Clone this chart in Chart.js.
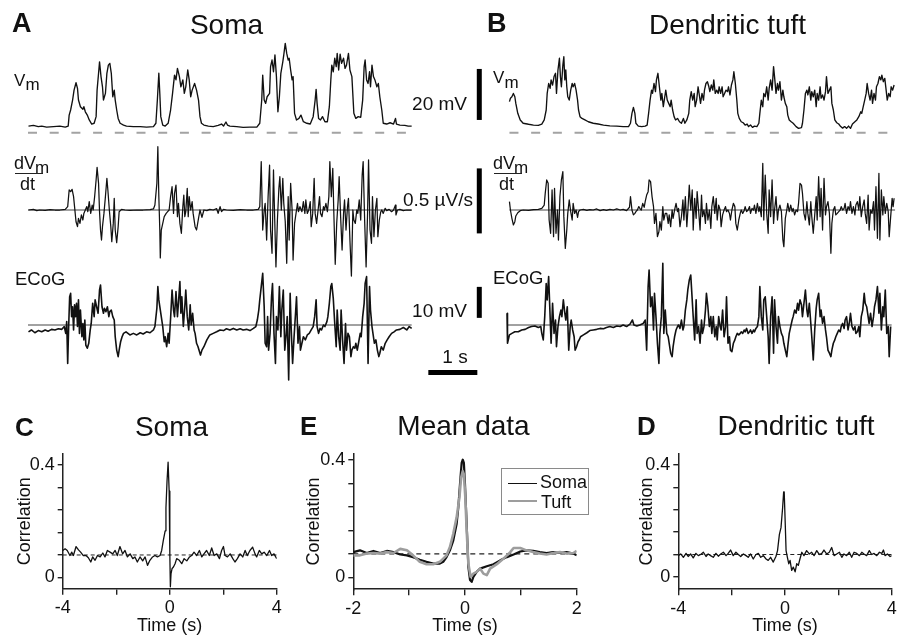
<!DOCTYPE html>
<html><head><meta charset="utf-8">
<script src="https://cdn.jsdelivr.net/npm/chart.js@4.4.0/dist/chart.umd.min.js"></script>
<style>
html,body{margin:0;padding:0;background:#fff;}
body{width:904px;height:642px;overflow:hidden;position:relative;font-family:"Liberation Sans",Arial,Helvetica,sans-serif;}
canvas{position:absolute;}
.t{position:absolute;white-space:nowrap;color:#111;line-height:1;}
</style></head><body>
<script>
// ---------------- DATA ----------------
// Panel A (soma) traces: [time s, value]
const somaVm = [[0.01,2.6],[0.11,2.9],[0.21,2.4],[0.28,2.6],[0.38,2.2],[0.52,2.4],[0.65,2.6],[0.76,2.2],[0.82,2.6],[0.84,6.9],[0.87,8.9],[0.91,12.8],[0.94,16.7],[0.98,19.6],[1.01,17.4],[1.03,12.8],[1.07,10.2],[1.12,9.2],[1.14,10.2],[1.17,8.2],[1.21,6.9],[1.25,5.0],[1.30,3.4],[1.35,3.7],[1.39,6.3],[1.41,16.7],[1.44,23.3],[1.46,27.8],[1.49,22.0],[1.52,18.0],[1.54,12.8],[1.58,15.4],[1.61,23.3],[1.64,26.5],[1.67,27.2],[1.70,23.3],[1.73,14.1],[1.76,16.7],[1.78,12.8],[1.81,8.9],[1.84,5.6],[1.88,3.7],[1.95,3.0],[2.01,2.6],[2.15,2.4],[2.29,2.4],[2.42,2.2],[2.56,2.4],[2.61,3.7],[2.64,12.8],[2.67,23.3],[2.69,15.4],[2.71,6.3],[2.75,3.0],[2.80,2.6],[2.86,3.7],[2.91,8.9],[2.95,15.4],[2.99,22.6],[3.02,20.7],[3.05,25.2],[3.09,22.0],[3.12,18.0],[3.16,20.7],[3.19,15.4],[3.22,18.0],[3.26,24.6],[3.29,20.7],[3.32,14.1],[3.35,16.7],[3.40,19.3],[3.44,16.7],[3.48,12.8],[3.51,6.3],[3.54,3.7],[3.59,3.0],[3.68,2.6],[3.78,2.4],[3.88,2.9],[3.95,3.4],[3.99,2.6],[4.04,4.2],[4.07,3.0],[4.12,2.6],[4.26,2.4],[4.39,2.1],[4.53,2.2],[4.67,2.2],[4.73,3.7],[4.77,12.8],[4.79,22.6],[4.82,12.8],[4.85,11.5],[4.88,14.1],[4.93,15.4],[4.95,25.9],[4.98,28.5],[5.01,23.9],[5.04,30.5],[5.07,22.0],[5.10,8.2],[5.13,14.1],[5.16,23.3],[5.20,27.8],[5.22,30.5],[5.25,35.0],[5.28,31.1],[5.31,28.5],[5.33,29.2],[5.36,24.6],[5.39,20.7],[5.41,22.0],[5.44,7.6],[5.48,5.0],[5.53,5.6],[5.57,6.9],[5.62,4.3],[5.69,3.7],[5.76,3.4],[5.82,6.3],[5.86,12.8],[5.88,17.0],[5.90,11.5],[5.93,5.6],[5.97,5.0],[6.01,6.3],[6.06,4.3],[6.11,4.3],[6.15,10.2],[6.18,20.7],[6.20,26.5],[6.23,23.9],[6.26,29.2],[6.29,25.9],[6.31,31.1],[6.34,24.6],[6.37,30.8],[6.40,27.2],[6.44,29.2],[6.47,25.2],[6.50,26.5],[6.54,31.1],[6.57,24.6],[6.61,22.0],[6.65,7.6],[6.69,5.6],[6.74,6.3],[6.79,6.0],[6.83,12.8],[6.86,25.9],[6.88,28.5],[6.91,20.7],[6.94,19.3],[6.97,23.9],[6.99,18.0],[7.02,26.5],[7.05,22.0],[7.08,20.7],[7.12,18.0],[7.15,19.3],[7.18,14.1],[7.22,8.9],[7.25,3.7],[7.32,3.4],[7.39,3.9],[7.46,3.4],[7.50,5.6],[7.52,3.4],[7.59,3.0],[7.69,2.9],[7.76,2.6],[7.83,2.6]];

const somaDvdt = [[0.01,0],[0.11,0.005],[0.18,-0.005],[0.24,0],[0.35,-0.003],[0.45,0.003],[0.55,0],[0.65,0],[0.76,0.005],[0.81,0.026],[0.84,0.154],[0.87,0.141],[0.90,0.159],[0.93,0.103],[0.95,0.026],[0.98,-0.09],[1.01,-0.128],[1.03,-0.064],[1.06,-0.103],[1.09,-0.038],[1.12,-0.077],[1.14,-0.026],[1.17,0],[1.20,0.026],[1.22,-0.013],[1.25,0.064],[1.28,-0.026],[1.31,0.038],[1.33,0],[1.36,0.103],[1.39,0.231],[1.41,0.328],[1.44,0.205],[1.46,-0.013],[1.48,-0.154],[1.50,-0.231],[1.52,-0.128],[1.55,-0.026],[1.58,0.103],[1.61,0.244],[1.63,0.154],[1.66,0],[1.69,-0.128],[1.71,-0.244],[1.74,-0.103],[1.76,0.09],[1.78,-0.154],[1.81,-0.251],[1.84,-0.128],[1.86,-0.013],[1.91,0.005],[1.98,0],[2.08,-0.003],[2.22,0],[2.35,0],[2.49,0.003],[2.56,0.008],[2.59,0.038],[2.63,0.205],[2.65,0.487],[2.67,0.103],[2.69,-0.154],[2.70,-0.369],[2.72,-0.154],[2.75,-0.103],[2.78,-0.051],[2.82,-0.026],[2.85,-0.013],[2.88,0],[2.91,0.103],[2.94,0.179],[2.97,-0.026],[2.99,0.128],[3.02,0.192],[3.05,-0.051],[3.07,0.051],[3.10,-0.103],[3.13,-0.179],[3.16,0.026],[3.18,0.115],[3.20,-0.051],[3.22,-0.013],[3.25,0.167],[3.27,-0.051],[3.29,0.103],[3.32,0],[3.35,0.064],[3.37,-0.026],[3.41,-0.128],[3.44,-0.154],[3.48,-0.064],[3.51,0],[3.55,-0.056],[3.59,0],[3.65,-0.005],[3.71,0.005],[3.78,0],[3.85,0.01],[3.88,-0.026],[3.92,0.026],[3.95,-0.013],[3.99,0.005],[4.05,0],[4.19,-0.003],[4.33,0.003],[4.46,0],[4.60,0],[4.70,0.005],[4.73,0.026],[4.76,0.372],[4.79,-0.154],[4.82,0],[4.84,0.051],[4.87,-0.231],[4.90,0.103],[4.93,0.346],[4.95,-0.154],[4.98,-0.333],[5.01,0.308],[5.03,0],[5.06,-0.438],[5.09,-0.077],[5.12,0.167],[5.14,0.256],[5.17,0],[5.20,0.244],[5.22,0.051],[5.25,-0.09],[5.28,-0.410],[5.31,0.103],[5.33,-0.231],[5.36,0.205],[5.39,0],[5.41,-0.385],[5.44,-0.103],[5.47,-0.026],[5.50,0.051],[5.52,-0.013],[5.55,0.026],[5.59,-0.013],[5.62,0.064],[5.65,-0.026],[5.67,0.077],[5.70,-0.026],[5.73,0],[5.76,0.064],[5.78,-0.128],[5.81,-0.026],[5.84,0.244],[5.86,-0.026],[5.89,-0.103],[5.92,0],[5.95,0.103],[5.97,-0.026],[6.00,-0.051],[6.03,0.026],[6.05,0],[6.08,0.051],[6.11,-0.013],[6.14,0.103],[6.16,0.372],[6.19,0.103],[6.22,0.321],[6.24,0],[6.27,-0.418],[6.30,-0.103],[6.33,0.077],[6.35,0.256],[6.38,-0.051],[6.41,-0.308],[6.44,-0.026],[6.46,0.077],[6.49,-0.154],[6.52,0.026],[6.54,0.090],[6.57,-0.231],[6.60,-0.508],[6.63,0],[6.65,-0.077],[6.68,-0.103],[6.71,0],[6.73,-0.026],[6.76,0.077],[6.79,-0.077],[6.82,0.269],[6.84,0.372],[6.87,-0.077],[6.90,-0.438],[6.93,-0.026],[6.95,0.385],[6.98,-0.154],[7.01,-0.256],[7.03,0.103],[7.06,-0.205],[7.09,0],[7.12,0.090],[7.14,-0.205],[7.17,-0.077],[7.20,-0.013],[7.22,0],[7.25,-0.026],[7.29,0.013],[7.32,-0.005],[7.37,0.005],[7.42,-0.013],[7.46,0],[7.50,0.038],[7.51,-0.038],[7.54,0],[7.59,0.005],[7.66,-0.005],[7.73,0],[7.83,0]];

const somaEcog = [[0.01,-2.2],[0.07,-1.6],[0.14,-2.5],[0.21,-1.8],[0.28,-2.2],[0.35,-1.6],[0.41,-2.0],[0.48,-1.4],[0.55,-1.6],[0.62,-1.2],[0.69,-1.4],[0.74,-0.5],[0.77,-2.7],[0.79,1.1],[0.81,-12.4],[0.83,-0.5],[0.85,9.1],[0.87,10.2],[0.89,2.7],[0.91,5.9],[0.93,-1.6],[0.95,6.5],[0.97,2.7],[0.99,7.0],[1.01,-0.5],[1.03,8.1],[1.05,-2.7],[1.07,4.8],[1.10,-3.8],[1.12,0.5],[1.14,-4.8],[1.16,1.6],[1.18,-6.5],[1.21,-7.5],[1.24,-5.9],[1.27,-1.6],[1.29,0.5],[1.32,7.0],[1.35,2.7],[1.37,8.1],[1.40,5.9],[1.43,3.8],[1.46,11.3],[1.48,12.9],[1.51,5.9],[1.54,3.8],[1.56,5.4],[1.59,4.3],[1.62,5.9],[1.65,2.7],[1.67,4.3],[1.70,4.8],[1.73,2.7],[1.76,1.6],[1.78,-3.8],[1.81,-8.1],[1.84,-10.2],[1.86,-8.1],[1.89,-5.4],[1.92,-3.8],[1.95,-2.7],[2.00,-2.2],[2.08,-3.2],[2.15,-2.7],[2.22,-3.2],[2.29,-2.5],[2.35,-2.9],[2.42,-2.2],[2.49,-2.5],[2.56,-1.6],[2.59,-0.5],[2.63,5.4],[2.65,12.4],[2.67,8.1],[2.69,5.9],[2.72,2.7],[2.75,-0.5],[2.78,-5.4],[2.80,-3.8],[2.83,-7.0],[2.86,-2.7],[2.88,-5.9],[2.91,2.2],[2.94,11.3],[2.97,4.8],[2.99,2.7],[3.02,10.8],[3.05,2.7],[3.07,7.0],[3.10,14.0],[3.12,3.8],[3.14,9.1],[3.17,-0.5],[3.20,5.9],[3.22,11.3],[3.25,2.7],[3.28,-1.6],[3.31,6.5],[3.33,0],[3.36,3.8],[3.39,-1.6],[3.41,-2.7],[3.44,-5.9],[3.47,-7.0],[3.50,-8.6],[3.52,-9.7],[3.55,-8.1],[3.59,-7.0],[3.65,-4.8],[3.71,-3.2],[3.78,-2.7],[3.85,-2.2],[3.92,-1.6],[3.99,-1.8],[4.05,-1.2],[4.12,-1.6],[4.19,-1.1],[4.26,-1.6],[4.33,-1.2],[4.39,-1.6],[4.46,-1.4],[4.53,-1.8],[4.60,-1.1],[4.65,-0.5],[4.68,1.6],[4.71,4.8],[4.73,8.1],[4.76,12.4],[4.79,16.7],[4.82,5.9],[4.84,-5.9],[4.87,-7.0],[4.89,2.7],[4.91,-8.1],[4.94,-2.7],[4.97,9.1],[4.99,13.4],[5.02,-2.7],[5.05,-12.4],[5.07,2.7],[5.10,-1.6],[5.13,12.4],[5.16,-3.8],[5.18,4.8],[5.21,11.3],[5.24,-8.1],[5.27,-2.7],[5.29,2.7],[5.32,-17.7],[5.35,10.2],[5.37,-0.5],[5.40,-12.4],[5.43,-3.8],[5.46,3.8],[5.48,9.1],[5.51,-5.9],[5.54,-0.5],[5.56,-8.1],[5.59,-5.9],[5.62,-3.8],[5.66,-4.8],[5.70,-3.2],[5.74,-2.7],[5.78,-1.6],[5.82,-0.5],[5.85,2.7],[5.88,8.1],[5.90,-0.5],[5.93,-2.7],[5.96,-1.1],[5.99,-1.6],[6.03,0],[6.06,-0.5],[6.10,1.1],[6.12,2.7],[6.15,7.0],[6.18,12.4],[6.20,13.4],[6.23,8.6],[6.26,0.5],[6.29,-7.0],[6.31,4.8],[6.34,-3.8],[6.37,-8.1],[6.39,4.8],[6.42,-4.8],[6.45,-12.4],[6.48,0.5],[6.50,-8.1],[6.53,-2.7],[6.56,-3.8],[6.59,-10.2],[6.61,-8.1],[6.64,-7.0],[6.67,-7.5],[6.69,-5.9],[6.72,-8.1],[6.75,-5.4],[6.78,-2.7],[6.80,-3.8],[6.83,2.7],[6.86,7.0],[6.88,13.4],[6.91,15.6],[6.94,-12.4],[6.97,12.4],[6.99,4.8],[7.02,-0.5],[7.05,-3.8],[7.07,-5.9],[7.10,-4.8],[7.13,-8.1],[7.16,-10.2],[7.18,-9.1],[7.21,-7.0],[7.25,-8.1],[7.29,-5.9],[7.33,-4.8],[7.37,-3.8],[7.42,-2.7],[7.47,-2.2],[7.52,-1.6],[7.59,-1.4],[7.66,-0.8],[7.73,-1.6],[7.78,-0.5],[7.83,-1.1]];

// Panel B (dendritic tuft) traces
const tuftVm = [[0.05,12.2],[0.07,13.5],[0.10,14.1],[0.13,15.4],[0.16,14.1],[0.18,11.5],[0.22,7.6],[0.27,5.0],[0.33,3.7],[0.44,3.3],[0.54,3.0],[0.64,2.9],[0.71,3.4],[0.76,5.0],[0.80,8.9],[0.82,15.4],[0.85,19.3],[0.88,17.4],[0.90,20.7],[0.93,18.7],[0.96,22.0],[0.99,23.3],[1.01,15.4],[1.04,24.6],[1.07,29.2],[1.09,22.0],[1.11,18.0],[1.14,26.5],[1.16,29.8],[1.18,20.7],[1.20,24.6],[1.22,18.0],[1.24,14.1],[1.27,12.8],[1.30,16.7],[1.33,19.3],[1.35,18.0],[1.38,19.3],[1.41,16.7],[1.44,12.8],[1.46,8.9],[1.49,6.3],[1.53,5.6],[1.59,5.0],[1.66,4.3],[1.76,3.7],[1.86,3.4],[1.97,3.0],[2.10,2.7],[2.24,2.6],[2.37,2.4],[2.48,2.4],[2.52,3.7],[2.55,7.6],[2.58,9.9],[2.61,7.6],[2.63,3.7],[2.68,2.6],[2.75,2.4],[2.82,2.6],[2.86,3.0],[2.89,7.6],[2.92,12.8],[2.95,16.7],[2.97,15.4],[3.00,19.3],[3.03,16.1],[3.05,20.7],[3.08,23.3],[3.11,18.0],[3.14,12.8],[3.16,15.4],[3.19,10.2],[3.22,14.1],[3.24,16.7],[3.27,12.8],[3.30,11.5],[3.33,10.2],[3.35,12.8],[3.38,8.9],[3.41,6.3],[3.44,5.0],[3.48,5.6],[3.52,4.3],[3.56,3.7],[3.60,5.6],[3.63,3.7],[3.67,5.0],[3.71,7.6],[3.73,12.8],[3.76,16.1],[3.79,12.8],[3.82,15.4],[3.84,10.2],[3.87,12.8],[3.90,18.0],[3.93,14.1],[3.95,11.5],[3.98,15.4],[4.01,12.8],[4.03,16.7],[4.06,19.3],[4.09,20.0],[4.12,18.0],[4.14,16.1],[4.17,18.7],[4.20,16.7],[4.22,20.7],[4.25,15.4],[4.28,16.7],[4.31,15.4],[4.33,18.0],[4.36,15.4],[4.39,18.0],[4.41,14.1],[4.44,15.4],[4.47,16.7],[4.50,16.1],[4.52,18.0],[4.55,14.8],[4.58,18.7],[4.61,20.7],[4.63,23.9],[4.66,19.3],[4.69,12.8],[4.71,7.6],[4.74,5.6],[4.78,4.3],[4.82,3.9],[4.86,3.0],[4.90,3.4],[4.93,2.4],[4.97,3.0],[5.01,2.1],[5.05,2.6],[5.10,2.4],[5.14,3.7],[5.16,7.6],[5.19,12.8],[5.22,10.2],[5.24,15.4],[5.27,14.1],[5.30,18.0],[5.33,12.8],[5.35,17.4],[5.38,20.7],[5.41,16.7],[5.44,25.9],[5.46,22.0],[5.49,15.4],[5.52,19.3],[5.54,16.7],[5.57,20.0],[5.60,12.8],[5.63,16.7],[5.65,14.1],[5.68,11.5],[5.71,10.2],[5.73,6.9],[5.76,5.0],[5.80,4.3],[5.84,3.7],[5.90,2.4],[5.95,1.7],[6.01,2.0],[6.03,3.7],[6.06,8.9],[6.09,15.4],[6.12,16.7],[6.14,14.8],[6.17,18.0],[6.20,12.8],[6.22,16.1],[6.25,14.1],[6.28,16.7],[6.31,10.2],[6.33,15.4],[6.36,12.8],[6.39,18.0],[6.41,13.5],[6.44,14.8],[6.47,12.8],[6.50,16.1],[6.52,22.0],[6.55,15.4],[6.58,16.7],[6.61,18.0],[6.63,11.5],[6.66,8.9],[6.69,5.0],[6.73,3.9],[6.77,3.4],[6.81,2.4],[6.85,1.8],[6.89,2.4],[6.93,1.7],[6.97,2.6],[7.01,1.7],[7.05,3.4],[7.10,4.3],[7.14,5.0],[7.18,6.3],[7.22,8.2],[7.24,7.6],[7.27,10.2],[7.30,12.8],[7.33,15.4],[7.35,19.3],[7.38,15.4],[7.41,12.8],[7.44,16.7],[7.46,11.5],[7.49,15.4],[7.52,12.8],[7.54,18.0],[7.57,19.3],[7.60,22.0],[7.63,20.7],[7.65,22.6],[7.68,20.0],[7.71,21.3],[7.73,18.0],[7.76,12.8],[7.79,15.4],[7.82,14.1],[7.84,18.0],[7.87,16.7],[7.90,18.7]];

const tuftDvdt = [[0.05,0.064],[0.07,0],[0.10,-0.064],[0.13,-0.115],[0.16,-0.090],[0.18,-0.046],[0.22,-0.021],[0.27,-0.005],[0.33,0],[0.44,-0.003],[0.54,0.003],[0.64,0.005],[0.71,0.013],[0.76,0.038],[0.78,0.128],[0.81,0.231],[0.84,0.205],[0.86,-0.077],[0.89,-0.179],[0.92,0.154],[0.95,-0.205],[0.97,0.167],[1.00,-0.179],[1.03,0],[1.05,-0.231],[1.08,0.103],[1.11,0.231],[1.14,0.295],[1.16,-0.051],[1.19,-0.295],[1.22,-0.154],[1.24,-0.026],[1.27,0.077],[1.30,-0.013],[1.33,-0.077],[1.35,0.051],[1.38,-0.026],[1.41,0],[1.44,-0.056],[1.46,-0.013],[1.49,0],[1.56,0.005],[1.63,-0.003],[1.69,0.003],[1.76,0],[1.83,0.008],[1.90,-0.005],[1.97,0.003],[2.03,-0.003],[2.10,0.005],[2.17,0],[2.24,0.008],[2.31,0],[2.37,0.005],[2.44,-0.005],[2.50,0.021],[2.52,0.103],[2.55,0],[2.58,-0.038],[2.61,-0.026],[2.63,-0.013],[2.66,0],[2.69,0.026],[2.71,0.013],[2.74,0],[2.77,0.051],[2.80,0.021],[2.82,0.064],[2.85,0.115],[2.88,0.141],[2.90,0.231],[2.93,0.218],[2.96,0.103],[2.99,0.026],[3.01,-0.103],[3.04,-0.026],[3.07,-0.205],[3.10,-0.167],[3.12,-0.090],[3.15,-0.154],[3.18,0.026],[3.20,-0.077],[3.23,-0.026],[3.26,-0.026],[3.29,-0.103],[3.31,-0.038],[3.34,-0.128],[3.37,0],[3.39,-0.064],[3.42,0],[3.45,0.051],[3.48,-0.013],[3.50,0.013],[3.53,-0.128],[3.56,-0.051],[3.59,0.077],[3.61,-0.077],[3.64,0.103],[3.67,-0.128],[3.69,-0.013],[3.72,0.192],[3.75,0],[3.78,0.154],[3.80,-0.154],[3.83,0.090],[3.86,-0.064],[3.88,0.141],[3.91,0],[3.94,-0.154],[3.97,0.115],[3.99,-0.051],[4.02,0],[4.05,-0.103],[4.07,0.051],[4.10,-0.077],[4.13,0],[4.16,-0.141],[4.18,0.026],[4.21,0.103],[4.24,-0.026],[4.27,0.090],[4.29,-0.077],[4.32,0.038],[4.35,0],[4.37,-0.128],[4.40,-0.038],[4.43,0],[4.46,0.026],[4.48,-0.013],[4.51,0],[4.54,-0.026],[4.56,-0.077],[4.59,0],[4.62,0.051],[4.65,0.026],[4.67,-0.103],[4.70,-0.154],[4.73,-0.077],[4.76,-0.026],[4.78,0],[4.81,-0.026],[4.84,-0.005],[4.86,0.026],[4.89,-0.013],[4.92,0],[4.95,0.026],[4.97,-0.026],[5.00,0.013],[5.03,0],[5.05,0.038],[5.08,-0.026],[5.11,0.051],[5.14,-0.013],[5.16,0.026],[5.19,-0.051],[5.22,0.359],[5.24,-0.077],[5.27,0.269],[5.30,-0.026],[5.33,-0.179],[5.35,0.154],[5.38,-0.051],[5.41,0.231],[5.44,-0.103],[5.46,0],[5.49,0.103],[5.52,-0.077],[5.54,0],[5.57,0.038],[5.60,-0.013],[5.63,-0.231],[5.65,-0.282],[5.68,-0.064],[5.71,0],[5.73,0.051],[5.76,-0.013],[5.79,0.038],[5.82,-0.013],[5.84,0.013],[5.87,-0.038],[5.90,0],[5.93,-0.013],[5.95,0.051],[5.98,0.205],[6.01,0.192],[6.03,0.128],[6.06,-0.026],[6.09,-0.077],[6.12,0.064],[6.14,-0.026],[6.17,-0.115],[6.20,0.064],[6.22,-0.051],[6.25,-0.179],[6.28,-0.038],[6.31,0.103],[6.33,-0.077],[6.36,0.256],[6.39,-0.051],[6.41,0.167],[6.44,-0.154],[6.47,0.244],[6.50,-0.038],[6.52,0.026],[6.55,0.064],[6.58,-0.026],[6.61,-0.333],[6.63,-0.103],[6.66,0],[6.69,0.026],[6.71,-0.038],[6.74,-0.026],[6.77,-0.013],[6.80,0],[6.82,0.026],[6.85,0],[6.88,0.013],[6.90,0.051],[6.93,-0.026],[6.96,0.026],[6.99,0],[7.01,0.064],[7.04,-0.026],[7.07,0.026],[7.10,-0.038],[7.12,0.038],[7.15,0.064],[7.18,0],[7.20,0.103],[7.23,-0.051],[7.26,0.026],[7.29,0.077],[7.31,-0.026],[7.34,-0.103],[7.37,0.115],[7.39,-0.154],[7.42,0],[7.45,-0.026],[7.48,0.064],[7.50,-0.154],[7.53,0.179],[7.56,-0.218],[7.59,0.282],[7.61,-0.231],[7.64,0.154],[7.67,-0.038],[7.69,0.103],[7.72,-0.026],[7.75,0.051],[7.78,-0.013],[7.80,-0.205],[7.83,-0.051],[7.86,0.090],[7.88,0.026],[7.90,0.090]];

const tuftEcog = [[0.00,3.8],[0.01,-5.9],[0.05,-3.2],[0.10,-2.7],[0.16,-2.2],[0.23,-2.2],[0.30,-1.6],[0.37,-1.4],[0.44,-0.8],[0.50,-0.5],[0.57,-0.3],[0.64,-0.8],[0.69,-0.5],[0.71,-2.7],[0.74,-4.8],[0.77,2.7],[0.80,13.4],[0.82,8.1],[0.85,15.6],[0.88,2.7],[0.90,-5.9],[0.93,7.0],[0.96,-2.7],[0.99,1.6],[1.01,-7.0],[1.04,-0.5],[1.07,2.7],[1.10,4.8],[1.12,2.7],[1.15,8.1],[1.18,3.8],[1.20,1.6],[1.23,5.9],[1.26,-8.1],[1.29,-0.5],[1.31,1.6],[1.34,-1.6],[1.37,-3.8],[1.39,-8.1],[1.42,-7.0],[1.45,-5.4],[1.48,-4.6],[1.50,-3.8],[1.56,-3.2],[1.63,-2.5],[1.69,-1.8],[1.76,-1.6],[1.83,-1.4],[1.90,-1.1],[1.97,-1.2],[2.03,-0.8],[2.10,-0.5],[2.17,-0.8],[2.24,-0.3],[2.31,-0.5],[2.37,0],[2.44,-0.5],[2.51,0.3],[2.56,1.6],[2.59,0],[2.65,-0.3],[2.71,0],[2.78,0.5],[2.82,1.6],[2.85,-8.1],[2.88,12.4],[2.90,17.7],[2.93,5.9],[2.96,9.1],[2.99,-1.6],[3.01,10.2],[3.04,2.7],[3.07,-5.9],[3.10,-12.4],[3.12,-2.7],[3.15,2.7],[3.18,19.9],[3.20,-2.7],[3.23,4.8],[3.26,-2.7],[3.29,-3.8],[3.31,-5.9],[3.34,-9.1],[3.37,-10.2],[3.39,-7.0],[3.42,-3.8],[3.45,-1.6],[3.48,-0.5],[3.50,0],[3.53,-1.1],[3.56,1.6],[3.59,-1.6],[3.61,-0.5],[3.64,4.8],[3.67,8.1],[3.69,11.3],[3.72,14.5],[3.75,16.1],[3.78,8.1],[3.80,2.7],[3.83,-4.8],[3.86,8.1],[3.88,-2.7],[3.91,-0.5],[3.94,-5.9],[3.97,1.6],[3.99,-2.7],[4.02,-0.5],[4.05,4.8],[4.07,10.2],[4.10,5.9],[4.13,-0.5],[4.16,2.7],[4.18,-2.7],[4.21,2.7],[4.24,-3.8],[4.27,-0.5],[4.29,-4.8],[4.32,2.7],[4.35,-0.5],[4.37,-1.6],[4.40,4.8],[4.43,-3.8],[4.46,-0.5],[4.48,9.1],[4.51,-5.9],[4.54,-3.8],[4.56,-8.1],[4.59,-8.6],[4.62,-5.9],[4.65,-4.8],[4.67,-3.8],[4.70,-2.7],[4.73,-3.2],[4.76,-2.7],[4.78,-2.2],[4.81,-2.7],[4.84,-1.6],[4.86,-2.2],[4.89,-1.1],[4.92,-2.7],[4.95,-2.2],[4.97,-1.6],[5.00,-2.7],[5.03,-1.6],[5.05,-2.2],[5.08,-1.1],[5.11,-0.5],[5.14,2.7],[5.16,12.4],[5.19,2.7],[5.22,-1.6],[5.24,8.1],[5.27,9.1],[5.30,2.7],[5.33,-3.8],[5.35,-12.4],[5.38,2.7],[5.41,9.1],[5.44,-9.1],[5.46,8.1],[5.49,-0.5],[5.52,-5.9],[5.54,2.7],[5.57,-0.5],[5.60,-2.7],[5.63,-3.8],[5.65,-5.9],[5.68,-8.1],[5.71,-10.2],[5.73,-7.0],[5.76,-2.7],[5.79,-0.5],[5.82,1.6],[5.84,2.7],[5.87,4.8],[5.90,3.8],[5.93,7.0],[5.95,4.8],[5.98,8.1],[6.01,6.5],[6.03,2.7],[6.06,7.0],[6.09,11.3],[6.12,4.8],[6.14,2.7],[6.17,7.0],[6.20,0.5],[6.22,-3.8],[6.25,-11.3],[6.28,-1.6],[6.31,5.4],[6.33,8.1],[6.36,10.2],[6.39,2.7],[6.41,4.8],[6.44,0.5],[6.47,2.7],[6.50,-1.6],[6.52,-3.8],[6.55,-8.1],[6.58,-9.1],[6.61,-10.2],[6.63,-8.1],[6.66,-5.9],[6.69,-4.8],[6.71,-3.8],[6.74,-2.7],[6.77,-1.6],[6.80,-2.2],[6.82,-0.5],[6.85,0.5],[6.88,-1.1],[6.90,1.6],[6.93,2.7],[6.96,-1.6],[6.99,1.1],[7.01,3.8],[7.04,-0.5],[7.07,-1.6],[7.10,-0.5],[7.12,-2.7],[7.15,-2.2],[7.18,-0.5],[7.20,-3.8],[7.23,2.7],[7.26,4.8],[7.29,10.2],[7.31,7.0],[7.34,5.9],[7.37,2.7],[7.39,0.5],[7.42,3.8],[7.45,-0.5],[7.48,2.7],[7.50,5.9],[7.53,8.1],[7.56,12.4],[7.59,3.8],[7.61,10.2],[7.64,-1.6],[7.67,5.9],[7.69,2.7],[7.72,11.3],[7.75,-2.7],[7.78,-0.5],[7.80,-10.2],[7.83,-0.5]];

// Panels C, D: cross-correlation (lag s, r)
const corrSoma = [[-4.00,0.096],[-3.91,0.102],[-3.83,0.096],[-3.73,0.078],[-3.66,0.090],[-3.60,0.078],[-3.50,0.110],[-3.41,0.098],[-3.33,0.090],[-3.23,0.078],[-3.13,0.078],[-3.04,0.070],[-2.95,0.055],[-2.88,0.073],[-2.79,0.061],[-2.70,0.078],[-2.60,0.073],[-2.50,0.087],[-2.42,0.073],[-2.33,0.096],[-2.23,0.090],[-2.13,0.084],[-2.04,0.096],[-1.96,0.078],[-1.86,0.110],[-1.76,0.084],[-1.67,0.096],[-1.58,0.073],[-1.48,0.084],[-1.38,0.067],[-1.30,0.073],[-1.21,0.055],[-1.11,0.073],[-1.01,0.059],[-0.92,0.073],[-0.83,0.043],[-0.74,0.061],[-0.64,0.073],[-0.55,0.078],[-0.46,0.073],[-0.36,0.078],[-0.30,0.096],[-0.24,0.131],[-0.17,0.166],[-0.14,0.248],[-0.10,0.342],[-0.06,0.410],[-0.02,0.307],[0.00,0.166],[0.01,0.081],[0.025,-0.033],[0.05,0.014],[0.09,0.032],[0.14,0.037],[0.20,0.049],[0.26,0.067],[0.36,0.061],[0.45,0.049],[0.54,0.067],[0.64,0.059],[0.74,0.073],[0.82,0.078],[0.91,0.090],[1.01,0.078],[1.11,0.096],[1.20,0.073],[1.28,0.084],[1.38,0.096],[1.48,0.078],[1.57,0.105],[1.66,0.078],[1.76,0.084],[1.86,0.067],[1.94,0.096],[2.01,0.110],[2.07,0.078],[2.16,0.073],[2.26,0.084],[2.36,0.067],[2.44,0.055],[2.53,0.067],[2.63,0.084],[2.73,0.073],[2.82,0.096],[2.90,0.078],[3.00,0.096],[3.10,0.108],[3.19,0.084],[3.25,0.073],[3.35,0.096],[3.44,0.084],[3.53,0.090],[3.63,0.078],[3.73,0.096],[3.81,0.078],[3.90,0.084],[4.00,0.067]];

const corrTuft = [[-4.00,0.076],[-3.91,0.082],[-3.81,0.070],[-3.71,0.084],[-3.63,0.073],[-3.54,0.082],[-3.44,0.068],[-3.34,0.084],[-3.25,0.076],[-3.16,0.080],[-3.06,0.088],[-2.96,0.073],[-2.88,0.082],[-2.79,0.076],[-2.69,0.070],[-2.59,0.084],[-2.50,0.074],[-2.41,0.082],[-2.31,0.088],[-2.21,0.076],[-2.13,0.084],[-2.04,0.096],[-1.94,0.076],[-1.84,0.088],[-1.75,0.080],[-1.66,0.073],[-1.56,0.082],[-1.46,0.076],[-1.38,0.070],[-1.29,0.082],[-1.19,0.064],[-1.09,0.080],[-1.00,0.084],[-0.91,0.070],[-0.81,0.076],[-0.71,0.064],[-0.63,0.059],[-0.54,0.070],[-0.44,0.053],[-0.34,0.073],[-0.28,0.094],[-0.21,0.152],[-0.15,0.176],[-0.09,0.246],[-0.05,0.304],[-0.03,0.304],[0.01,0.187],[0.04,0.094],[0.09,0.070],[0.14,0.047],[0.19,0.059],[0.25,0.023],[0.31,0.035],[0.38,0.018],[0.44,0.047],[0.50,0.041],[0.56,0.064],[0.63,0.088],[0.71,0.076],[0.81,0.094],[0.91,0.082],[1.00,0.088],[1.09,0.076],[1.19,0.094],[1.29,0.080],[1.38,0.084],[1.46,0.096],[1.56,0.082],[1.66,0.088],[1.75,0.105],[1.84,0.076],[1.94,0.082],[2.04,0.088],[2.13,0.070],[2.21,0.082],[2.31,0.076],[2.41,0.088],[2.50,0.070],[2.59,0.088],[2.69,0.084],[2.79,0.076],[2.88,0.088],[2.96,0.082],[3.06,0.076],[3.16,0.094],[3.25,0.080],[3.34,0.084],[3.44,0.076],[3.54,0.088],[3.63,0.084],[3.69,0.096],[3.75,0.076],[3.84,0.082],[3.94,0.073],[4.00,0.076]];

// Panel E: mean cross-correlation
const meanSoma = [[-2.0,0.086],[-1.88,0.092],[-1.76,0.083],[-1.64,0.09],[-1.52,0.083],[-1.40,0.09],[-1.28,0.086],[-1.16,0.078],[-1.04,0.075],[-0.93,0.069],[-0.81,0.06],[-0.69,0.053],[-0.57,0.047],[-0.45,0.047],[-0.39,0.053],[-0.33,0.069],[-0.27,0.092],[-0.21,0.125],[-0.15,0.181],[-0.12,0.237],[-0.09,0.316],[-0.06,0.389],[-0.04,0.40],[-0.02,0.389],[0.0,0.316],[0.03,0.181],[0.06,0.036],[0.09,-0.009],[0.12,-0.015],[0.15,0.002],[0.21,0.019],[0.27,0.030],[0.39,0.038],[0.51,0.045],[0.63,0.058],[0.75,0.069],[0.87,0.078],[0.99,0.088],[1.10,0.092],[1.22,0.09],[1.34,0.086],[1.46,0.083],[1.58,0.086],[1.70,0.083],[1.82,0.086],[1.94,0.081],[2.0,0.075]];
const meanTuft = [[-2.0,0.075],[-1.88,0.075],[-1.76,0.081],[-1.64,0.083],[-1.52,0.081],[-1.40,0.086],[-1.28,0.083],[-1.16,0.097],[-1.04,0.092],[-0.93,0.075],[-0.81,0.053],[-0.69,0.045],[-0.57,0.045],[-0.45,0.053],[-0.33,0.075],[-0.27,0.103],[-0.21,0.148],[-0.15,0.204],[-0.10,0.271],[-0.07,0.338],[-0.04,0.361],[-0.02,0.35],[0.006,0.271],[0.03,0.159],[0.06,0.047],[0.10,0.002],[0.15,0.013],[0.21,0.019],[0.27,0.030],[0.33,0.013],[0.39,0.008],[0.45,0.030],[0.57,0.045],[0.69,0.064],[0.81,0.086],[0.87,0.1],[0.99,0.1],[1.10,0.092],[1.22,0.086],[1.34,0.081],[1.46,0.078],[1.58,0.083],[1.70,0.086],[1.82,0.081],[1.94,0.083],[2.0,0.09]];

const corrBaseline = 0.08;
const corrXTicks = [-4,-2,0,2,4];
const corrXLabels = ['-4','','0','','4'];
const meanXTicks = [-2,-1,0,1,2];
const meanXLabels = ['-2','','0','','2'];
const corrYTicks = [0,0.08,0.16,0.24,0.32,0.4];
const corrYLabels = ['0','','','','','0.4'];
const seriesNames = ['Soma','Tuft'];

// scale bar sizes (units of each trace)
const barVm = 20, barDvdt = 0.5, barEcog = 10, barTime = 1;
const traceEnd = 7.83, tuftTraceEnd = 7.9;

// ---------------- DRAWING ----------------
const FONT = '"Liberation Sans", Arial, Helvetica, sans-serif';
Chart.defaults.font.family = FONT;
Chart.defaults.color = '#111';

function addCanvas(x,y,w,h){
  const c=document.createElement('canvas');
  c.width=w;c.height=h;
  c.style.left=x+'px';c.style.top=y+'px';c.style.width=w+'px';c.style.height=h+'px';
  document.body.appendChild(c);
  return c;
}
const P = a => a.map(([x,y])=>({x,y}));
function ds(data,color,width,extra){
  return Object.assign({data,borderColor:color,borderWidth:width,pointRadius:0,fill:false,tension:0,
    borderJoinStyle:'round',borderCapStyle:'butt',borderDash:[]},extra||{});
}
function traceChart(rect,xCal,yCal,datasets){
  const c=addCanvas(rect.x,rect.y,rect.w,rect.h);
  const xmin=(rect.x-xCal.zero)/xCal.ppu, xmax=(rect.x+rect.w-xCal.zero)/xCal.ppu;
  const ymax=(yCal.zero-rect.y)/yCal.ppu, ymin=(yCal.zero-rect.y-rect.h)/yCal.ppu;
  new Chart(c,{type:'line',data:{datasets},options:{
    responsive:false,animation:false,devicePixelRatio:1,events:[],
    layout:{padding:0},
    plugins:{legend:{display:false},tooltip:{enabled:false}},
    scales:{x:{type:'linear',display:false,min:xmin,max:xmax},
            y:{type:'linear',display:false,min:ymin,max:ymax}}
  }});
}

// calibrations (page px)
const calA={zero:28,ppu:49}, calB={zero:507,ppu:49};
const calVm={zero:132.7,ppu:2.55}, calDv={zero:210,ppu:130}, calEc={zero:325,ppu:3.1};
const barT = 9.21;           // time position of vertical scale bars (panel A time base)
const timeBarStart = 8.17, timeBarY = -15.3;
const vmBarStart=5, dvBarStart=-0.18, ecBarStart=2.3;

const ink='#111', zeroCol='#444', dashCol='#a3a3a3';

// Panel A
traceChart({x:0,y:36,w:495,h:110},calA,calVm,[
  ds(P(somaVm),ink,1.35),
  ds([{x:0,y:0},{x:7.73,y:0}],dashCol,2,{borderDash:[9,12.7]}),
  ds([{x:barT,y:vmBarStart},{x:barT,y:vmBarStart+barVm}],'#000',5)
]);
traceChart({x:0,y:140,w:495,h:146},calA,calDv,[
  ds(P(somaDvdt),ink,1.25),
  ds([{x:0,y:0},{x:traceEnd,y:0}],zeroCol,1),
  ds([{x:barT,y:dvBarStart},{x:barT,y:dvBarStart+barDvdt}],'#000',5)
]);
traceChart({x:0,y:255,w:495,h:140},calA,calEc,[
  ds(P(somaEcog),ink,1.6),
  ds([{x:0,y:0},{x:traceEnd,y:0}],zeroCol,1),
  ds([{x:barT,y:ecBarStart},{x:barT,y:ecBarStart+barEcog}],'#000',5),
  ds([{x:timeBarStart,y:timeBarY},{x:timeBarStart+barTime,y:timeBarY}],'#000',5)
]);
// Panel B
traceChart({x:488,y:36,w:416,h:110},calB,calVm,[
  ds(P(tuftVm),ink,1.35),
  ds([{x:0.05,y:0},{x:7.78,y:0}],dashCol,2,{borderDash:[9,12.7]})
]);
traceChart({x:488,y:140,w:416,h:146},calB,calDv,[
  ds(P(tuftDvdt),ink,1.25),
  ds([{x:0.05,y:0},{x:tuftTraceEnd+0.02,y:0}],zeroCol,1)
]);
traceChart({x:488,y:255,w:416,h:140},calB,calEc,[
  ds(P(tuftEcog),ink,1.6),
  ds([{x:0,y:0},{x:7.85,y:0}],zeroCol,1)
]);

// correlation panels
function corrChart(o){
  const c=addCanvas(o.x,o.y,o.w,o.h);
  new Chart(c,{type:'line',data:{datasets:o.datasets},options:{
    responsive:false,animation:false,devicePixelRatio:1,events:[],
    layout:{padding:{left:0,top:o.top-o.y,right:o.x+o.w-o.right,bottom:0}},
    plugins:{legend:{display:false},tooltip:{enabled:false}},
    scales:{
      x:{type:'linear',min:o.xMin,max:o.xMax,
        afterBuildTicks:s=>{s.ticks=o.xTicks.map(v=>({value:v}));},
        afterFit:s=>{s.height=o.y+o.h-o.bottom;},
        ticks:{autoSkip:false,maxRotation:0,minRotation:0,padding:3,color:'#111',font:{size:18},
          callback:(v,i)=>o.xLabels[i]},
        grid:{drawOnChartArea:false,drawTicks:true,tickLength:6,color:'#222',lineWidth:1.4},
        border:{display:true,color:'#222',width:1.5},
        title:{display:true,text:'Time (s)',color:'#111',font:{size:18},padding:{top:0,bottom:4.7}}},
      y:{type:'linear',min:o.yMin,max:o.yMax,
        afterBuildTicks:s=>{s.ticks=corrYTicks.map(v=>({value:v}));},
        afterFit:s=>{s.width=o.left-o.x;},
        ticks:{autoSkip:false,padding:3,color:'#111',font:{size:18},callback:(v,i)=>corrYLabels[i]},
        grid:{drawOnChartArea:false,drawTicks:true,tickLength:5,color:'#222',lineWidth:1.4},
        border:{display:true,color:'#222',width:1.5},
        title:{display:true,text:'Correlation',color:'#111',font:{size:18},padding:{top:o.titlePad,bottom:0}}}
    }}});
}
corrChart({x:0,y:440,w:295,h:202,left:62.7,right:276.7,top:451.9,bottom:588.7,
  xMin:-4,xMax:4,yMin:-0.04,yMax:0.44,xTicks:corrXTicks,xLabels:corrXLabels,titlePad:14.5,
  datasets:[ds(P(corrSoma),ink,1.3),
    ds([{x:-4,y:corrBaseline},{x:4,y:corrBaseline}],'#222',1,{borderDash:[4,3]})]});
corrChart({x:295,y:440,w:305,h:202,left:353.3,right:576.7,top:452.35,bottom:589.2,
  xMin:-2,xMax:2,yMin:-0.04,yMax:0.42,xTicks:meanXTicks,xLabels:meanXLabels,titlePad:8,
  datasets:[ds(P(meanSoma),'#111',2.2,{order:2}),ds(P(meanTuft),'#9d9d9d',2.6,{order:1}),
    ds([{x:-2,y:corrBaseline},{x:2,y:corrBaseline}],'#222',1.2,{borderDash:[5,4],order:3})]});
corrChart({x:600,y:440,w:304,h:202,left:678.3,right:891.7,top:451.3,bottom:589.2,
  xMin:-4,xMax:4,yMin:-0.044,yMax:0.44,xTicks:corrXTicks,xLabels:corrXLabels,titlePad:36,
  datasets:[ds(P(corrTuft),ink,1.3),
    ds([{x:-4,y:corrBaseline},{x:4,y:corrBaseline}],'#222',1,{borderDash:[4,3]})]});

// ---------------- TEXT ----------------
function txt(s,x,base,size,o){
  o=o||{};
  const d=document.createElement('div');
  d.className='t';d.textContent=s;
  d.style.fontSize=size+'px';
  d.style.fontWeight=o.bold?'bold':'normal';
  if(o.color) d.style.color=o.color;
  d.style.top=(base-0.8465*size)+'px';
  d.style.left=x+'px';
  if(o.align==='center') d.style.transform='translateX(-50%)';
  if(o.align==='right') d.style.transform='translateX(-100%)';
  document.body.appendChild(d);
  return d;
}
function rule(x,y,w,h,col){
  const d=document.createElement('div');
  d.style.cssText=`position:absolute;left:${x}px;top:${y}px;width:${w}px;height:${h}px;background:${col};`;
  document.body.appendChild(d);
}
txt('A',12,33,27,{bold:true});
txt('Soma',226.5,34.5,28,{align:'center'});
txt('B',487,33,27,{bold:true});
txt('Dendritic tuft',727.5,35,28,{align:'center'});
// Vm labels
txt('V',14,86,17); txt('m',25.5,90,17);
txt('V',493,83,17); txt('m',504.5,88.5,17);
// dVm/dt labels
txt('dV',14,169,18); txt('m',35,173,17); rule(15,172.5,28,1.5,'#222'); txt('dt',27.5,190,18,{align:'center'});
txt('dV',493,169,18); txt('m',514,173,17); rule(494,172.5,28,1.5,'#222'); txt('dt',506.5,190,18,{align:'center'});
// ECoG labels
txt('ECoG',15,286,18.5); txt('ECoG',493,285,18.5);
// scale bar labels
txt(barVm+' mV',467,110.5,19,{align:'right'});
txt(barDvdt+' \u00B5V/s',473,206,19,{align:'right'});
txt(barEcog+' mV',467,317,19,{align:'right'});
txt(barTime+' s',455,363,19,{align:'center'});
// bottom titles
txt('C',15,436,26,{bold:true});
txt('Soma',171.5,436.5,28,{align:'center'});
txt('E',300,435,26,{bold:true});
txt('Mean data',463.5,436,28,{align:'center'});
txt('D',637,435.5,26,{bold:true});
txt('Dendritic tuft',796,436,28,{align:'center'});
// legend for E
const lg=document.createElement('div');
lg.style.cssText='position:absolute;left:500.7px;top:468.3px;width:88.6px;height:46.7px;border:1.5px solid #8a8a8a;box-sizing:border-box;';
document.body.appendChild(lg);
rule(508,482.5,29,1.7,'#111');
rule(508,500.2,29,1.9,'#9d9d9d');
txt(seriesNames[0],540,488,18);
txt(seriesNames[1],541,508,18);
</script>
</body></html>
